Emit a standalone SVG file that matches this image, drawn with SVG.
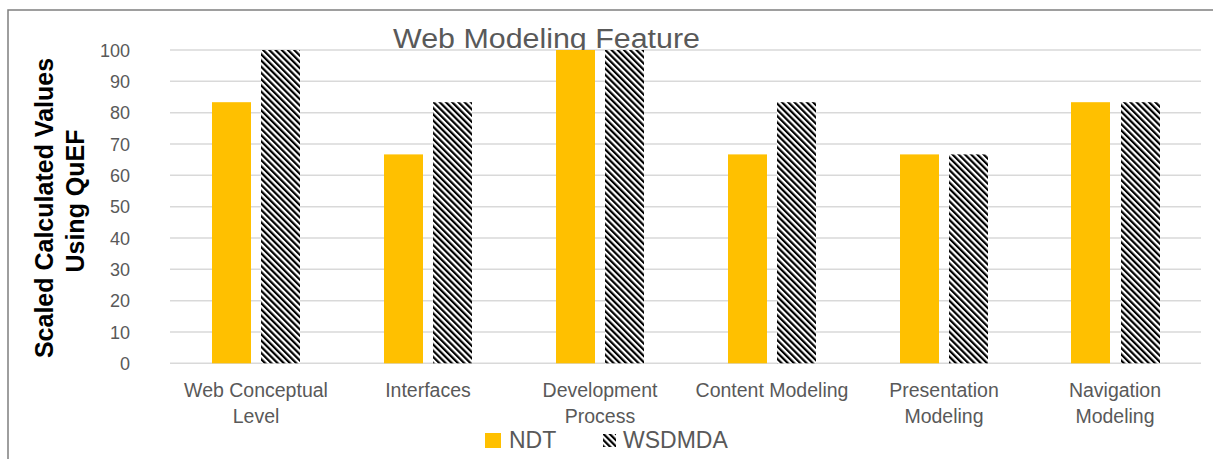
<svg xmlns="http://www.w3.org/2000/svg" width="1213" height="459" viewBox="0 0 1213 459">
<style>
.grid{stroke:#d9d9d9;stroke-width:1.5}
.tick{font-family:"Liberation Sans",Arial,sans-serif;font-size:18px;fill:#595959;text-anchor:end}
.cat{font-family:"Liberation Sans",Arial,sans-serif;font-size:19.5px;fill:#595959;text-anchor:middle}
.ndt{fill:#ffc000}
.ws{fill:url(#hatch)}
.leg{font-family:"Liberation Sans",Arial,sans-serif;font-size:23px;fill:#595959}
</style>
<defs>
<pattern id="hatch" patternUnits="userSpaceOnUse" width="4.4" height="4.4" patternTransform="rotate(-45)">
<rect width="4.4" height="4.4" fill="#ffffff"/>
<rect width="2.2" height="4.4" fill="#000000"/>
</pattern>
</defs>
<rect width="1213" height="459" fill="#ffffff"/>
<g id="frame" fill="none" stroke="#7f7f7f" stroke-width="1.5">
<path d="M8,459 V10 H1213"/>
</g>
<g id="gridlines">
<line class="grid" x1="170" y1="50" x2="1201" y2="50"/>
<line class="grid" x1="170" y1="81.3" x2="1201" y2="81.3"/>
<line class="grid" x1="170" y1="112.7" x2="1201" y2="112.7"/>
<line class="grid" x1="170" y1="144" x2="1201" y2="144"/>
<line class="grid" x1="170" y1="175.3" x2="1201" y2="175.3"/>
<line class="grid" x1="170" y1="206.7" x2="1201" y2="206.7"/>
<line class="grid" x1="170" y1="238" x2="1201" y2="238"/>
<line class="grid" x1="170" y1="269.3" x2="1201" y2="269.3"/>
<line class="grid" x1="170" y1="300.7" x2="1201" y2="300.7"/>
<line class="grid" x1="170" y1="332" x2="1201" y2="332"/>
<line class="grid" x1="170" y1="363.3" x2="1201" y2="363.3"/>
</g>
<g id="y-ticks">
<text class="tick" x="130" y="56.5">100</text>
<text class="tick" x="130" y="87.8">90</text>
<text class="tick" x="130" y="119.2">80</text>
<text class="tick" x="130" y="150.5">70</text>
<text class="tick" x="130" y="181.8">60</text>
<text class="tick" x="130" y="213.2">50</text>
<text class="tick" x="130" y="244.5">40</text>
<text class="tick" x="130" y="275.8">30</text>
<text class="tick" x="130" y="307.2">20</text>
<text class="tick" x="130" y="338.5">10</text>
<text class="tick" x="130" y="369.8">0</text>
</g>
<g id="y-title" font-family="'Liberation Sans',Arial,sans-serif" font-size="25" font-weight="bold" fill="#000000" text-anchor="middle">
<text transform="translate(53,208) rotate(-90)">Scaled Calculated Values</text>
<text transform="translate(84,201) rotate(-90)">Using QuEF</text>
</g>
<text id="title" x="393" y="48" font-family="'Liberation Sans',Arial,sans-serif" font-size="27" fill="#595959" textLength="307" lengthAdjust="spacingAndGlyphs">Web Modeling Feature</text>
<g id="bars">
<rect class="ndt" x="212" y="102.2" width="39" height="261.1"/>
<rect class="ws" x="261" y="50" width="39" height="313.3"/>
<rect class="ndt" x="384" y="154.4" width="39" height="208.9"/>
<rect class="ws" x="433" y="102.2" width="39" height="261.1"/>
<rect class="ndt" x="556" y="50" width="39" height="313.3"/>
<rect class="ws" x="605" y="50" width="39" height="313.3"/>
<rect class="ndt" x="728" y="154.4" width="39" height="208.9"/>
<rect class="ws" x="777" y="102.2" width="39" height="261.1"/>
<rect class="ndt" x="900" y="154.4" width="39" height="208.9"/>
<rect class="ws" x="949" y="154.4" width="39" height="208.9"/>
<rect class="ndt" x="1071" y="102.2" width="39" height="261.1"/>
<rect class="ws" x="1121" y="102.2" width="39" height="261.1"/>
</g>
<g id="categories">
<text class="cat" x="256" y="397">Web Conceptual</text>
<text class="cat" x="256" y="423">Level</text>
<text class="cat" x="428" y="397">Interfaces</text>
<text class="cat" x="600" y="397">Development</text>
<text class="cat" x="600" y="423">Process</text>
<text class="cat" x="772" y="397">Content Modeling</text>
<text class="cat" x="944" y="397">Presentation</text>
<text class="cat" x="944" y="423">Modeling</text>
<text class="cat" x="1115" y="397">Navigation</text>
<text class="cat" x="1115" y="423">Modeling</text>
</g>
<g id="legend">
<rect class="ndt" x="485" y="433" width="16" height="15"/>
<text class="leg" x="509" y="448">NDT</text>
<rect class="ws" x="603" y="434" width="13" height="13"/>
<text class="leg" x="623" y="448">WSDMDA</text>
</g>
</svg>
